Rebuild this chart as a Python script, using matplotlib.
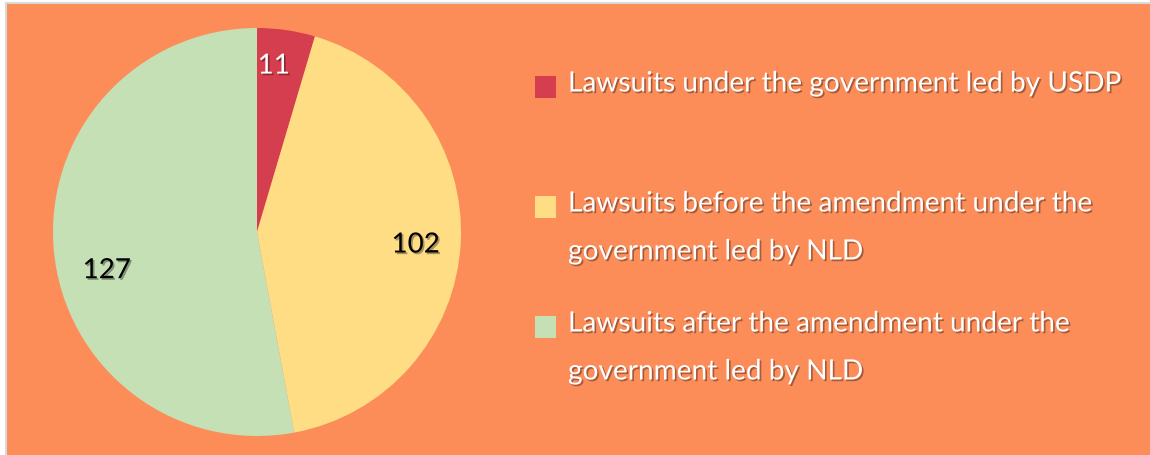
import matplotlib
matplotlib.use("Agg")
import matplotlib.pyplot as plt
import matplotlib.patheffects as pe
from matplotlib.patches import Rectangle
import numpy as np

labels = ["Lawsuits under the government led by USDP",
          "Lawsuits before the amendment under the\ngovernment led by NLD",
          "Lawsuits after the amendment under the\ngovernment led by NLD"]
values = [11, 102, 127]
colors = ["#D53E4F", "#FEDD85", "#C5E0B4"]
label_colors = ["white", "black", "black"]

BG = "#FC8D59"
W, H = 1150, 456
fig = plt.figure(figsize=(W / 100, H / 100), dpi=100)
fig.patch.set_facecolor("white")

# panel background with thin grey border (top/left visible)
fig.add_artist(Rectangle((6 / W, -0.05), 1.1, 1 - 4 / H + 0.05, transform=fig.transFigure,
                         facecolor=BG, edgecolor="#D9D9D9", linewidth=1.5, zorder=-1))

cx, cy, r = 257, 233, 204
ax = fig.add_axes([(cx - r) / W, 1 - (cy + r) / H, 2 * r / W, 2 * r / H])
ax.set_axis_off()
wedges, _ = ax.pie(values, colors=colors, startangle=90, counterclock=False,
                   radius=1, wedgeprops=dict(linewidth=0))
ax.set_xlim(-1, 1)
ax.set_ylim(-1, 1)

shadow = [pe.withSimplePatchShadow(offset=(1.2, -1.2), shadow_rgbFace="black", alpha=0.35)]
font = "Lato"
dists = [0.82, 0.78, 0.76]
angle_shift = [2.5, -1.5, 9]
for w, v, c, d, sh in zip(wedges, values, label_colors, dists, angle_shift):
    th = np.deg2rad((w.theta1 + w.theta2) / 2 + sh)
    ax.text(d * np.cos(th), d * np.sin(th), str(v), ha="center", va="center",
            fontsize=20, color=c, family=font, path_effects=shadow)

# legend drawn manually
x_sq, x_txt = 535 / W, 568 / W
for i, (lab, col) in enumerate(zip(labels, colors)):
    y_top = 82 + 120 * i
    fig.add_artist(Rectangle((x_sq, 1 - (y_top + 17) / H), 21 / W, 22 / H,
                             transform=fig.transFigure, facecolor=col, edgecolor="none"))
    for j, line in enumerate(lab.split("\n")):
        fig.text(x_txt, 1 - (y_top + 48 * j) / H, line, ha="left", va="center_baseline",
                 fontsize=20.2, color="white", family=font, path_effects=shadow)

fig.savefig("out.png", dpi=100, facecolor=fig.get_facecolor())
